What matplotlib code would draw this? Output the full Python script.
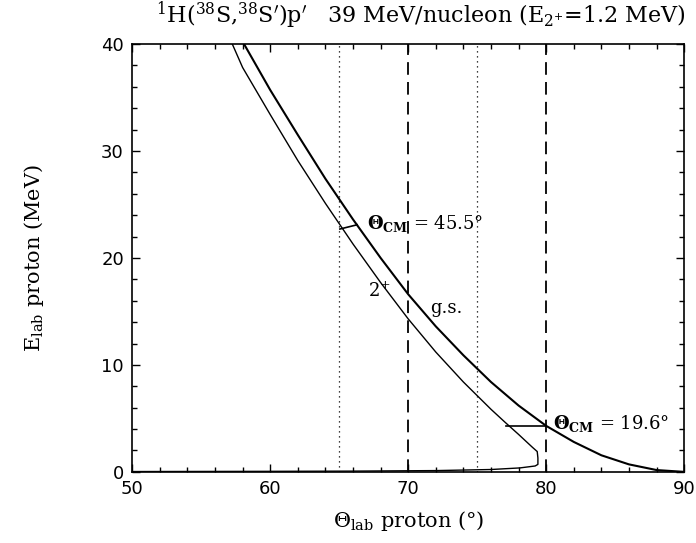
import matplotlib.pyplot as plt
from matplotlib.ticker import MultipleLocator

# ground state (elastic) proton kinematics, lab angle (deg) vs lab energy (MeV)
GS_THETA = [58.1, 60, 62, 64, 66, 68, 70, 72, 74, 76, 78, 80, 82, 84, 86, 88, 90]
GS_E = [40.0, 35.7, 31.5, 27.4, 23.6, 20.0, 16.6, 13.6, 10.9, 8.4, 6.2, 4.3, 2.8, 1.55, 0.7, 0.17, 0.0]

# 2+ state (E* = 1.2 MeV): upper branch up to the maximum angle, then the low-energy branch
EX_THETA = [57.25, 58, 60, 62, 64, 66, 68, 70, 72, 74, 76, 77, 78, 79.0, 79.35, 79.4, 79.4, 79.2, 78.1, 76, 72, 66, 60, 50]
EX_E = [40.0, 37.8, 33.4, 29.1, 25.1, 21.3, 17.7, 14.3, 11.2, 8.4, 5.85, 4.66, 3.5, 2.3, 1.9, 1.3, 0.7, 0.55, 0.37, 0.22, 0.12, 0.07, 0.05, 0.03]

# constant theta_CM markers joining the two curves
CM45_THETA = [65.05, 66.3]
CM45_E = [22.7, 23.1]
CM19_THETA = [77.1, 80.0]
CM19_E = [4.3, 4.3]

DOTTED_X = [65, 75]
DASHED_X = [70, 80]

SERIF = 'DejaVu Serif'
plt.rcParams['mathtext.fontset'] = 'dejavuserif'

fig = plt.figure(figsize=(6.96, 5.43), dpi=100)
ax = fig.add_axes([0.190, 0.131, 0.793, 0.788])

ax.plot(GS_THETA, GS_E, color='black', linewidth=1.5)
ax.plot(EX_THETA, EX_E, color='black', linewidth=1.0)
ax.plot(CM45_THETA, CM45_E, color='black', linewidth=1.2)
ax.plot(CM19_THETA, CM19_E, color='black', linewidth=1.2)

for x in DOTTED_X:
    ax.axvline(x, color='black', linestyle=(0, (1, 3)), linewidth=0.9)
for x in DASHED_X:
    ax.axvline(x, color='black', linestyle=(0, (7, 4)), linewidth=1.3)

ax.text(67.0, 23.2, r'$\mathbf{\Theta_{CM}}$ = 45.5$\degree$', fontsize=13,
        family=SERIF, va='center', ha='left')
ax.text(80.5, 4.5, r'$\mathbf{\Theta_{CM}}$ = 19.6$\degree$', fontsize=13,
        family=SERIF, va='center', ha='left')
ax.text(67.1, 16.9, r'2$^{+}$', fontsize=13, family=SERIF, va='center', ha='left')
ax.text(71.6, 15.3, 'g.s.', fontsize=13, family=SERIF, va='center', ha='left')

ax.set_xlim(50, 90)
ax.set_ylim(0, 40)
ax.xaxis.set_major_locator(MultipleLocator(10))
ax.xaxis.set_minor_locator(MultipleLocator(2))
ax.yaxis.set_major_locator(MultipleLocator(10))
ax.yaxis.set_minor_locator(MultipleLocator(2))
ax.tick_params(which='both', direction='in', top=True, right=True, width=1.0)
ax.tick_params(which='major', length=6, labelsize=13, pad=6)
ax.tick_params(which='minor', length=3.5)
for s in ax.spines.values():
    s.set_linewidth(1.2)

ax.set_xlabel(r'$\Theta_{\mathrm{lab}}$ proton ($\degree$)', fontsize=15, family=SERIF, labelpad=8)
ax.set_ylabel(r'E$_{\mathrm{lab}}$ proton (MeV)', fontsize=15, family=SERIF, labelpad=40)
fig.text(0.605, 0.972, r"$^{1}$H($^{38}$S,$^{38}$S$'$)p$'$   39 MeV/nucleon (E$_{2^{+}}$=1.2 MeV)",
         fontsize=16, family=SERIF, ha='center', va='center')

plt.savefig('out.png', dpi=100)
